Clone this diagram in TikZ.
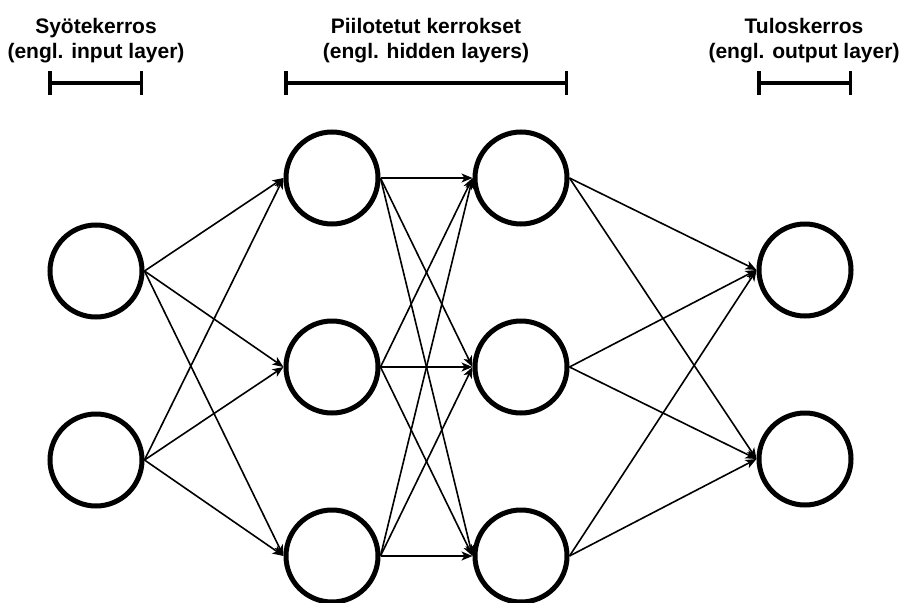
\documentclass[tikz,border=0pt]{standalone}
\usepackage{fontspec}
\setmainfont{Liberation Sans}
\usetikzlibrary{arrows.meta, positioning}

\begin{document}
\begin{tikzpicture}[x=1pt, y=-1pt, node distance=189pt]
\tikzstyle{neuron} = [circle, minimum size=92pt, inner sep=0pt, draw=black, line width=5pt, fill=white]
\tikzstyle{arrow} = [line width=1.6pt, -{Stealth[length=11pt, width=9pt, inset=3pt]}]
\tikzstyle{layertitle} = [align=center, font=\fontsize{21}{25}\selectfont\bfseries]
\tikzstyle{bracket} = [line width=3.5pt, {Bar[width=24pt]}-{Bar[width=24pt]}]

\useasboundingbox (0,0) rectangle (901,602);

% layer titles
\node (intitle) [layertitle] at (96,41) {Syötekerros\\(engl. input layer)};
\node (hidtitle) [layertitle] at (426,41) {Piilotetut kerrokset\\(engl. hidden layers)};
\node (outtitle) [layertitle] at (804,41) {Tuloskerros\\(engl. output layer)};
\draw [bracket] (48,83) -- (143,83);
\draw [bracket] (284,83) -- (568,83);
\draw [bracket] (757,83) -- (852,83);

% neurons
\node (i1) [neuron] at (96,271) {};
\node (i2) [neuron, below of=i1] {};
\node (ha1) [neuron] at (332,178) {};
\node (ha2) [neuron, below of=ha1] {};
\node (ha3) [neuron, below of=ha2] {};
\node (hb1) [neuron, right of=ha1] {};
\node (hb2) [neuron, below of=hb1] {};
\node (hb3) [neuron, below of=hb2] {};
\node (o1) [neuron] at (805,270) {};
\node (o2) [neuron, below of=o1] {};

% input -> hidden a
\draw [arrow] (i1.east) -- (ha1.west);
\draw [arrow] (i1.east) -- (ha2.west);
\draw [arrow] (i1.east) -- (ha3.west);
\draw [arrow] (i2.east) -- (ha1.west);
\draw [arrow] (i2.east) -- (ha2.west);
\draw [arrow] (i2.east) -- (ha3.west);

% hidden a -> hidden b
\draw [arrow] (ha1.east) -- (hb1.west);
\draw [arrow] (ha1.east) -- (hb2.west);
\draw [arrow] (ha1.east) -- (hb3.west);
\draw [arrow] (ha2.east) -- (hb1.west);
\draw [arrow] (ha2.east) -- (hb2.west);
\draw [arrow] (ha2.east) -- (hb3.west);
\draw [arrow] (ha3.east) -- (hb1.west);
\draw [arrow] (ha3.east) -- (hb2.west);
\draw [arrow] (ha3.east) -- (hb3.west);

% hidden b -> output
\draw [arrow] (hb1.east) -- (o1.west);
\draw [arrow] (hb1.east) -- (o2.west);
\draw [arrow] (hb2.east) -- (o1.west);
\draw [arrow] (hb2.east) -- (o2.west);
\draw [arrow] (hb3.east) -- (o1.west);
\draw [arrow] (hb3.east) -- (o2.west);
\end{tikzpicture}
\end{document}
